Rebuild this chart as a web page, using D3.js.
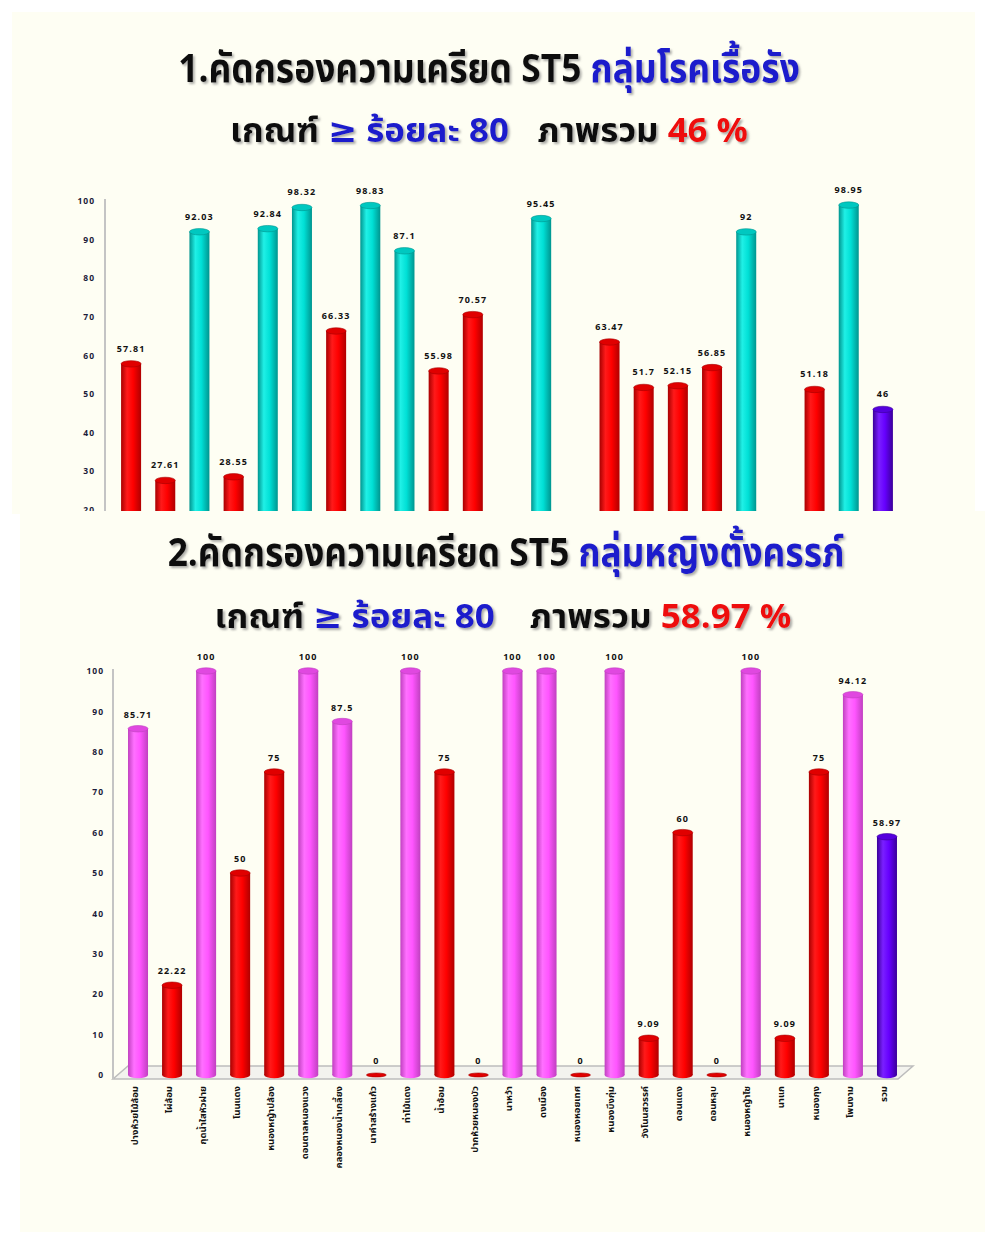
<!DOCTYPE html>
<meta charset="utf-8">
<script src="https://d3js.org/d3.v7.min.js"></script>
<style>
  body { margin: 0; background: #ffffff; }
  text { font-family: "Noto Sans Thai", "Noto Sans", "DejaVu Sans", sans-serif; }
</style>
<div id="chart"></div>
<script>
// sub-district names (x axis), last one is the total
const categories = ["ปางห้วยไม้ล้อม", "ไผ่ล้อม", "กุดน้ำใสหัวฝาย", "โนนแดง", "หนองหญ้าปล้อง",
  "ดอนตาลหนองแวง", "คลองหนองน้ำเกลี้ยง", "นาคำสร้างแก้ว", "ท่าไม้แดง", "น้ำอ้อม",
  "ปากห้วยหนองบัว", "นาหว้า", "ดงเมือง", "หนองหอยเทศ", "หนองบึงกุ่ม", "วังโนนสวรรค์",
  "ดอนแดง", "ดอนหลุบ", "หนองหญ้าไซ", "นาแก", "หนองกุง", "โพนงาม", "รวม"];

// 1. chronic disease group (null = no bar)
const chronicValues = [57.81, 27.61, 92.03, 28.55, 92.84, 98.32, 66.33, 98.83, 87.1, 55.98,
  70.57, null, 95.45, null, 63.47, 51.7, 52.15, 56.85, 92, null, 51.18, 98.95, 46];

// 2. pregnant women group
const pregnantValues = [85.71, 22.22, 100, 50, 75, 100, 87.5, 0, 100, 75,
  0, 100, 100, 0, 100, 9.09, 60, 0, 100, 9.09, 75, 94.12, 58.97];

const yTicks = [0, 10, 20, 30, 40, 50, 60, 70, 80, 90, 100];
const target = 80;

const W = 985, H = 1236;
const svg = d3.select("#chart").append("svg")
  .attr("width", W).attr("height", H);

const defs = svg.append("defs");
defs.append("filter").attr("id", "shadow")
  .attr("x", "-10%").attr("y", "-20%").attr("width", "120%").attr("height", "150%")
  .append("feDropShadow")
  .attr("dx", 2).attr("dy", 2).attr("stdDeviation", 1.2)
  .attr("flood-color", "#777").attr("flood-opacity", 0.6);

// cylinder gradients
const palettes = {
  red: ["#a80000", "#ff1a1a", "#ff0000", "#b00000", "#e00000"],
  cyan: ["#00958f", "#20f0e6", "#00e0d6", "#00958f", "#00c8c0"],
  pink: ["#c040c0", "#ff70ff", "#ff55ff", "#c040c0", "#e048e0"],
  purple: ["#3a0099", "#7a20ff", "#6600ff", "#3a0099", "#5500dd"]
};
Object.entries(palettes).forEach(([k, c]) => {
  const g = defs.append("linearGradient").attr("id", "g-" + k)
    .attr("x1", 0).attr("x2", 1).attr("y1", 0).attr("y2", 0);
  g.append("stop").attr("offset", "0%").attr("stop-color", c[0]);
  g.append("stop").attr("offset", "30%").attr("stop-color", c[1]);
  g.append("stop").attr("offset", "60%").attr("stop-color", c[2]);
  g.append("stop").attr("offset", "100%").attr("stop-color", c[3]);
});

// panels
svg.append("rect").attr("x", 12).attr("y", 12).attr("width", 963).attr("height", 502).attr("fill", "#fefef3");
svg.append("clipPath").attr("id", "clip1").append("rect")
  .attr("x", 0).attr("y", 0).attr("width", W).attr("height", 511);

// title line, squeezed horizontally to the reference width
function title(g, cx, y, size, len, parts) {
  const t = g.append("text").attr("x", 0).attr("y", 0)
    .attr("text-anchor", "middle").attr("font-size", size).attr("font-weight", "bold")
    .attr("filter", "url(#shadow)");
  parts.forEach(p => t.append("tspan").attr("fill", p[1]).attr("dx", p[2] || 0).text(p[0]));
  const w = t.node().getBBox().width;
  t.attr("transform", `translate(${cx},${y}) scale(${len / w},1)`);
}

function drawChart(opt) {
  const g = svg.append("g").attr("clip-path", opt.clip ? "url(#clip1)" : null);

  const x = d3.scaleBand().domain(categories).range(opt.xRange);
  const y = d3.scaleLinear().domain([0, 100]).range(opt.yRange);
  const cx = d => x(d) + x.bandwidth() / 2;
  const y0 = y(0);

  if (opt.floor) {
    const L = opt.axisX, R = opt.xRange[1] - 6;
    g.append("polygon")
      .attr("points", [[L, y0 + 4], [R, y0 + 4], [R + 15, y0 - 9], [L + 15, y0 - 9]].join(" "))
      .attr("fill", "#f3f3ee").attr("stroke", "#bdbdbd").attr("stroke-width", 1.5);
  }
  g.append("line").attr("x1", opt.axisX).attr("x2", opt.axisX)
    .attr("y1", y(100) - 2).attr("y2", opt.floor ? y0 + 4 : 520)
    .attr("stroke", "#c4c4c4").attr("stroke-width", 2);

  const ax = g.append("g").attr("transform", `translate(${opt.axisX},0)`)
    .call(d3.axisLeft(y).tickValues(yTicks).tickSize(0).tickPadding(opt.pad));
  ax.select(".domain").remove();
  ax.selectAll("text").attr("font-family", "DejaVu Sans").attr("font-size", 8.5)
    .attr("letter-spacing", 1).attr("font-weight", "bold").attr("fill", "#1c1c3a");

  const rx = 10, ry = 3.2;
  const data = categories.map((c, i) => ({ c, v: opt.values[i], last: i === categories.length - 1 }))
    .filter(d => d.v !== null);
  const col = d => d.last ? "purple" : (d.v >= target ? opt.pass : "red");

  const bars = g.selectAll(".bar").data(data).join("g").attr("class", "bar");
  bars.filter(d => d.v > 0).append("ellipse")
    .attr("cx", d => cx(d.c)).attr("cy", y0).attr("rx", rx).attr("ry", ry)
    .attr("fill", d => `url(#g-${col(d)})`);
  bars.filter(d => d.v > 0).append("rect")
    .attr("x", d => cx(d.c) - rx).attr("width", rx * 2)
    .attr("y", d => y(d.v)).attr("height", d => y0 - y(d.v))
    .attr("fill", d => `url(#g-${col(d)})`);
  bars.append("ellipse")
    .attr("cx", d => cx(d.c)).attr("cy", d => y(d.v)).attr("rx", rx)
    .attr("ry", d => d.v > 0 ? ry : 2)
    .attr("fill", d => palettes[col(d)][4])
    .attr("stroke", d => palettes[col(d)][0]).attr("stroke-width", 0.6);
  bars.append("text")
    .attr("x", d => cx(d.c)).attr("y", d => y(d.v) - opt.labelGap)
    .attr("text-anchor", "middle").attr("font-family", "DejaVu Sans")
    .attr("font-size", 9).attr("font-weight", "bold").attr("letter-spacing", 1.1)
    .attr("fill", "#111")
    .text(d => d.v);

  if (opt.labels) {
    g.selectAll(".cat").data(categories).join("text").attr("class", "cat")
      .attr("transform", d => `translate(${cx(d) - 3},${opt.labelY}) rotate(-90)`)
      .attr("text-anchor", "end").attr("dominant-baseline", "middle")
      .attr("font-size", 9.5).attr("font-weight", "bold").attr("fill", "#111")
      .text(d => d);
  }
}

// chart 1
const t1 = svg.append("g");
title(t1, 489, 82, 40, 622, [["1.คัดกรองความเครียด ST5 ", "#111"], ["กลุ่มโรคเรื้อรัง", "#1a1acc"]]);
title(t1, 489, 142, 34, 518, [["เกณฑ์ ", "#111"], ["≥ ร้อยละ 80", "#1a1acc"], ["ภาพรวม ", "#111", 28], ["46 %", "#ee1111"]]);
drawChart({
  values: chronicValues, pass: "cyan", clip: true,
  xRange: [114, 900], yRange: [587, 201], axisX: 105, pad: 10, labelGap: 12
});

// chart 2 panel on top of chart 1's lower part
svg.append("rect").attr("x", 20).attr("y", 511).attr("width", 965).attr("height", 721).attr("fill", "#fefef3");
const t2 = svg.append("g");
title(t2, 506, 566, 40, 677, [["2.คัดกรองความเครียด ST5 ", "#111"], ["กลุ่มหญิงตั้งครรภ์", "#1a1acc"]]);
title(t2, 503, 628, 34, 577, [["เกณฑ์ ", "#111"], ["≥ ร้อยละ 80", "#1a1acc"], ["ภาพรวม ", "#111", 34], ["58.97 %", "#ee1111"]]);
drawChart({
  values: pregnantValues, pass: "pink", clip: false, floor: true, labels: true,
  xRange: [121, 904], yRange: [1075, 671], axisX: 113, pad: 9, labelGap: 11, labelY: 1086
});
</script>
